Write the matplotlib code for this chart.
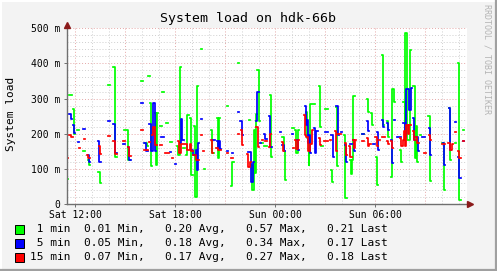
import numpy as np
import matplotlib
matplotlib.use('Agg')
import matplotlib.pyplot as plt
from matplotlib.patches import Rectangle
from matplotlib.lines import Line2D

nan = np.nan

# hours since Sat 12:00, load value (nan = gap)
green_pts = [
    (-0.56, .07), (-0.44, nan), (-0.38, .31), (-0.23, nan),
    (-0.17, .27), (-0.11, .20), (-0.02, nan), (0.10, .21), (0.22, nan),
    (0.46, .15), (0.58, nan), (0.73, .125), (0.79, .11), (0.88, nan),
    (1.36, .09), (1.45, .06), (1.54, nan), (1.96, .34), (2.08, nan),
    (2.23, .39), (2.35, .135), (2.50, nan), (2.92, .21), (3.16, .125), (3.28, nan),
    (3.94, .35), (4.06, nan), (4.15, .175), (4.27, .165), (4.33, nan),
    (4.36, .365), (4.45, nan), (4.47, .287), (4.53, .107), (4.60, nan),
    (4.78, .26), (4.83, .11), (4.92, .26), (4.96, nan),
    (5.08, .223), (5.17, nan), (5.20, .319), (5.29, nan), (5.44, .23), (5.56, nan),
    (5.68, .176), (5.77, nan), (6.10, .164), (6.16, .14), (6.25, .39), (6.34, nan),
    (6.46, .16), (6.55, nan), (6.61, .14), (6.72, .254), (6.82, nan),
    (6.88, .245), (6.94, .083), (7.03, nan),
    (7.09, .221), (7.15, .021), (7.27, .337), (7.33, nan),
    (7.51, .44), (7.60, nan), (7.69, .10), (7.78, nan),
    (8.14, .21), (8.20, .145), (8.29, nan),
    (8.47, .245), (8.53, .13), (8.62, .245), (8.68, nan),
    (9.07, .28), (9.16, nan), (9.31, .05), (9.40, .12), (9.49, nan),
    (9.73, .40), (9.82, nan), (10.39, .24), (10.48, nan),
    (10.54, .11), (10.60, .04), (10.69, .21), (10.75, .088), (10.81, .256), (10.87, nan),
    (10.90, .38), (11.00, .237), (11.05, nan), (11.14, .173), (11.23, nan),
    (11.32, .164), (11.50, nan), (11.65, .31), (11.74, .135), (11.80, nan),
    (12.40, .19), (12.49, .15), (12.55, .068), (12.61, nan),
    (13.00, .216), (13.09, nan), (13.18, .21), (13.24, .145), (13.36, .21), (13.42, nan),
    (13.81, .263), (13.87, .188), (13.99, .11), (14.04, .168), (14.08, .285), (14.38, nan),
    (14.59, .337), (14.65, .218), (14.71, nan), (14.74, .164), (14.83, nan),
    (14.98, .27), (15.13, nan), (15.31, .097), (15.37, .062), (15.43, nan),
    (15.64, .275), (15.70, .107), (15.76, nan),
    (16.12, .197), (16.18, .018), (16.27, nan),
    (16.45, .125), (16.51, .085), (16.60, .125), (16.66, .307), (16.75, nan),
    (17.20, .20), (17.29, nan), (17.47, .30), (17.53, .262), (17.62, nan),
    (17.71, .26), (17.77, .226), (17.83, nan), (18.01, .135), (18.07, .054), (18.13, nan),
    (18.37, .425), (18.43, .226), (18.49, nan), (18.67, .235), (18.73, .192), (18.79, nan),
    (18.94, .078), (19.02, .327), (19.09, .29), (19.18, nan),
    (19.45, .154), (19.54, .12), (19.60, nan),
    (19.66, .29), (19.76, .183), (19.80, .487), (19.92, .183), (20.06, .437), (20.14, nan),
    (20.26, .335), (20.35, .13), (20.41, .223), (20.50, .12), (20.56, nan),
    (20.65, .197), (20.74, nan), (21.16, .25), (21.25, .066), (21.34, nan),
    (22.00, .173), (22.09, .04), (22.18, nan), (22.39, .273), (22.48, .125), (22.54, nan),
    (22.75, .173), (22.84, nan), (22.93, .40), (23.02, .011), (23.11, nan),
    (23.23, .21), (23.32, nan),
]

blue_pts = [
    (-0.38, .257), (-0.29, .243), (-0.20, nan), (-0.17, .226), (-0.11, .203), (-0.05, nan),
    (0.13, .177), (0.22, nan), (0.46, .214), (0.58, nan),
    (0.73, .14), (0.79, .12), (0.88, nan), (1.36, .18), (1.44, .12), (1.51, nan),
    (1.96, .237), (2.08, nan), (2.23, .228), (2.35, .146), (2.47, nan),
    (2.86, .171), (2.98, nan), (3.13, .163), (3.22, .126), (3.31, nan),
    (3.94, .286), (4.06, nan), (4.12, .175), (4.21, .15), (4.36, nan),
    (4.39, .229), (4.51, .15), (4.63, .287), (4.75, .15), (4.84, nan),
    (5.11, .19), (5.32, nan), (5.65, .148), (5.74, nan), (5.95, .113), (6.04, nan),
    (6.25, .173), (6.34, .242), (6.40, .183), (6.52, nan),
    (6.97, .154), (7.06, .14), (7.21, .154), (7.27, .097), (7.33, .173), (7.42, nan),
    (7.51, .242), (7.60, nan), (8.17, .183), (8.38, nan),
    (8.47, .18), (8.53, .157), (8.62, .18), (8.68, .157), (8.74, nan),
    (9.07, .15), (9.16, nan), (9.37, .145), (9.46, nan), (9.73, .262), (9.82, nan),
    (9.88, .235), (9.97, .197), (10.06, nan),
    (10.33, .147), (10.51, .064), (10.63, .12), (10.72, nan),
    (10.81, .235), (10.90, .32), (10.99, nan), (11.05, .173), (11.14, nan),
    (11.29, .20), (11.38, .185), (11.50, nan), (11.62, .25), (11.68, .163), (11.77, nan),
    (12.25, .205), (12.34, nan), (12.40, .168), (12.49, .15), (12.58, nan),
    (12.97, .20), (13.06, nan), (13.27, .183), (13.33, .154), (13.42, nan),
    (13.75, .278), (13.81, .226), (13.87, .24), (13.93, .173), (13.99, .197), (14.05, .145), (14.11, nan),
    (14.29, .215), (14.38, .145), (14.44, .208), (14.56, nan),
    (14.98, .204), (15.13, nan), (15.34, .197), (15.43, .135), (15.52, nan),
    (15.64, .278), (15.73, .197), (15.82, nan), (15.91, .204), (16.00, nan),
    (16.15, .168), (16.21, .12), (16.30, nan), (16.45, .17), (16.57, nan),
    (16.63, .183), (16.69, .15), (16.75, nan), (17.17, .20), (17.29, nan),
    (17.47, .237), (17.53, .208), (17.62, nan), (17.86, .17), (17.95, nan),
    (18.07, .204), (18.13, .154), (18.22, nan), (18.37, .24), (18.46, .22), (18.52, nan),
    (18.67, .23), (18.76, .21), (18.82, nan), (18.91, .183), (18.97, .118), (19.06, nan),
    (19.09, .238), (19.18, nan), (19.30, .19), (19.54, nan),
    (19.66, .23), (19.75, .19), (19.81, .327), (19.99, .268), (20.11, .33), (20.17, nan),
    (20.23, .245), (20.29, .183), (20.38, nan), (20.44, .19), (20.53, .15), (20.59, nan),
    (20.77, .19), (20.98, nan), (21.19, .216), (21.25, .14), (21.34, nan),
    (22.03, .173), (22.09, .11), (22.18, nan), (22.39, .273), (22.48, .154), (22.54, nan),
    (22.75, .233), (22.84, nan), (22.93, .135), (23.02, .073), (23.11, nan),
    (23.23, .178), (23.32, nan),
]

red_pts = [
    (-0.56, .131), (-0.47, nan), (-0.38, .197), (-0.26, .19), (-0.17, nan),
    (0.19, .16), (0.28, nan), (0.49, .186), (0.58, nan),
    (0.67, .14), (0.76, .131), (0.85, nan), (1.39, .166), (1.48, .143), (1.54, nan),
    (1.96, .194), (2.08, nan), (2.26, .18), (2.35, .143), (2.47, nan),
    (2.86, .18), (2.98, nan), (3.13, .163), (3.22, .137), (3.31, nan),
    (3.94, .211), (4.06, nan), (4.12, .154), (4.36, nan), (4.39, .177), (4.48, nan),
    (4.57, .197), (4.66, .22), (4.75, .168), (4.87, nan),
    (5.05, .168), (5.20, nan), (5.35, .144), (5.62, nan), (5.77, .13), (5.86, nan),
    (6.13, .18), (6.19, .145), (6.31, .17), (6.70, .154), (6.85, .17), (6.94, .15), (7.03, nan),
    (7.06, .14), (7.21, .126), (7.42, nan), (7.51, .197), (7.60, nan), (7.63, .15), (7.72, nan),
    (8.11, .183), (8.20, .145), (8.26, nan), (8.41, .16), (8.56, .154), (8.74, nan),
    (9.07, .146), (9.16, nan), (9.31, .13), (9.46, nan), (9.73, .20), (9.82, nan),
    (9.91, .21), (9.97, .168), (10.03, nan),
    (10.27, .142), (10.36, .104), (10.45, .12), (10.54, nan),
    (10.84, .22), (10.93, .163), (10.99, nan), (11.17, .183), (11.26, nan),
    (11.35, .18), (11.50, nan), (11.59, .163), (11.65, .20), (11.71, nan),
    (12.37, .176), (12.43, .15), (12.52, nan), (13.03, .16), (13.12, nan),
    (13.18, .183), (13.24, .157), (13.36, .183), (13.42, nan),
    (13.69, .254), (13.75, .197), (13.84, .19), (13.96, .15), (14.08, .17), (14.17, .21), (14.26, nan),
    (14.59, .187), (14.65, .168), (14.74, nan), (14.89, .178), (15.13, nan),
    (15.25, .183), (15.34, nan), (15.55, .207), (15.61, .15), (15.70, nan),
    (15.73, .20), (15.94, nan), (16.15, .173), (16.21, .14), (16.30, nan),
    (16.39, .164), (16.48, .135), (16.57, nan),
    (16.63, .183), (16.69, .159), (16.75, .183), (16.81, nan),
    (17.20, .178), (17.29, nan), (17.47, .187), (17.53, .164), (17.62, .17), (17.74, nan),
    (17.95, .192), (18.07, .164), (18.16, nan), (18.19, .183), (18.28, nan),
    (18.37, .19), (18.58, nan), (18.67, .18), (18.76, .17), (18.82, nan),
    (18.91, .18), (18.97, .16), (19.06, nan),
    (19.45, .187), (19.51, .164), (19.63, .183), (19.69, .207), (19.75, .164),
    (19.84, .226), (19.93, .20), (20.02, .226), (20.11, nan),
    (20.23, .207), (20.32, .183), (20.38, nan), (20.44, .19), (20.50, .173), (20.59, nan),
    (20.89, .145), (21.01, nan), (21.19, .197), (21.25, .183), (21.34, nan),
    (21.97, .17), (22.18, nan), (22.33, .173), (22.45, .154), (22.57, .17), (22.63, nan),
    (22.75, .204), (22.84, nan), (22.93, .15), (23.02, .13), (23.11, nan),
    (23.23, .18), (23.32, nan),
]

series_names = [' 1 min', ' 5 min', '15 min']
series_colors = ['#00FF00', '#0000FF', '#FF0000']
stat_min = [0.01, 0.05, 0.07]
stat_avg = [0.20, 0.18, 0.17]
stat_max = [0.57, 0.34, 0.27]
stat_last = [0.21, 0.17, 0.18]

x_ticks = [0, 6, 12, 18]
x_labels = ['Sat 12:00', 'Sat 18:00', 'Sun 00:00', 'Sun 06:00']
y_ticks = [0, 0.1, 0.2, 0.3, 0.4, 0.5]
y_labels = ['0', '100 m', '200 m', '300 m', '400 m', '500 m']

mono = 'DejaVu Sans Mono'
W, H = 497, 271

fig = plt.figure(figsize=(W / 100, H / 100), dpi=100)
fig.patch.set_facecolor('#F3F3F3')

left, right, bottom, top = 66.7, 467.0, 204.0, 28.3
ax = fig.add_axes([left / W, 1 - bottom / H, (right - left) / W, (bottom - top) / H])
ax.set_facecolor('white')
ax.set_xlim(-0.52, 23.5)
ax.set_ylim(0, 0.5)

# grid: minor every 1 h / 20 m, major every 3 h / 100 m
for h in np.arange(0, 24, 1):
    c = '#E4A8A8' if h % 3 == 0 else '#CFCFCF'
    ax.axvline(h, color=c, lw=0.7, ls=(0, (1, 2)), zorder=1)
for y in np.arange(0.02, 0.5001, 0.02):
    c = '#E4A8A8' if round(y * 100) % 10 == 0 else '#CFCFCF'
    ax.axhline(y, color=c, lw=0.7, ls=(0, (1, 2)), zorder=1)

for pts, col in zip([green_pts, blue_pts, red_pts], series_colors):
    t = [p[0] for p in pts]
    v = [p[1] for p in pts]
    ax.step(t, v, where='post', color=col, lw=1.25, zorder=3)

for s in ['top', 'right']:
    ax.spines[s].set_visible(False)
for s in ['left', 'bottom']:
    ax.spines[s].set_color('#707070')
    ax.spines[s].set_linewidth(1.0)
    ax.spines[s].set_zorder(4)

ax.set_xticks(x_ticks)
ax.set_xticklabels(x_labels, fontfamily=mono, fontsize=7)
ax.set_yticks(y_ticks)
ax.set_yticklabels(y_labels, fontfamily=mono, fontsize=7)
ax.tick_params(length=2, width=0.7, color='#707070', pad=2.5)

# axis arrows
ax.plot([1.008], [0], marker='>', ms=4.5, color='#8B1A1A', transform=ax.transAxes, clip_on=False, zorder=5)
ax.plot([0], [1.02], marker='^', ms=4.5, color='#8B1A1A', transform=ax.transAxes, clip_on=False, zorder=5)

fig.text(0.498, 1 - 19 / H, 'System load on hdk-66b', ha='center', va='center',
         fontfamily=mono, fontsize=9.5)
fig.text(11 / W, 1 - 114 / H, 'System load', rotation=90, ha='center', va='center',
         fontfamily=mono, fontsize=8)
fig.text(487 / W, 1 - 59 / H, 'RRDTOOL / TOBI OETIKER', rotation=270, ha='center', va='center',
         fontfamily=mono, fontsize=6, color='#B4B4B4')

rows_y = [229, 243, 257]
for i in range(3):
    yc = rows_y[i]
    fig.patches.append(Rectangle((15 / W, 1 - (yc + 4.5) / H), 8.5 / W, 9 / H,
                                 transform=fig.transFigure, facecolor=series_colors[i],
                                 edgecolor='black', lw=0.7))
    txt = '%s  %.2f Min,   %.2f Avg,   %.2f Max,   %.2f Last' % (
        series_names[i], stat_min[i], stat_avg[i], stat_max[i], stat_last[i])
    fig.text(29.5 / W, 1 - yc / H, txt, ha='left', va='center', fontfamily=mono, fontsize=8)

# 3d-ish frame
fig.add_artist(Line2D([0, 1], [1 - 0.5 / H, 1 - 0.5 / H], color='white', lw=1.5))
fig.add_artist(Line2D([0.5 / W, 0.5 / W], [0, 1], color='white', lw=1.5))
fig.add_artist(Line2D([1 - 1 / W, 1 - 1 / W], [0, 1], color='#A0A0A0', lw=1.6))
fig.add_artist(Line2D([0, 1], [1 / H, 1 / H], color='#A0A0A0', lw=1.6))

fig.savefig('out.png', dpi=100, facecolor=fig.get_facecolor())
